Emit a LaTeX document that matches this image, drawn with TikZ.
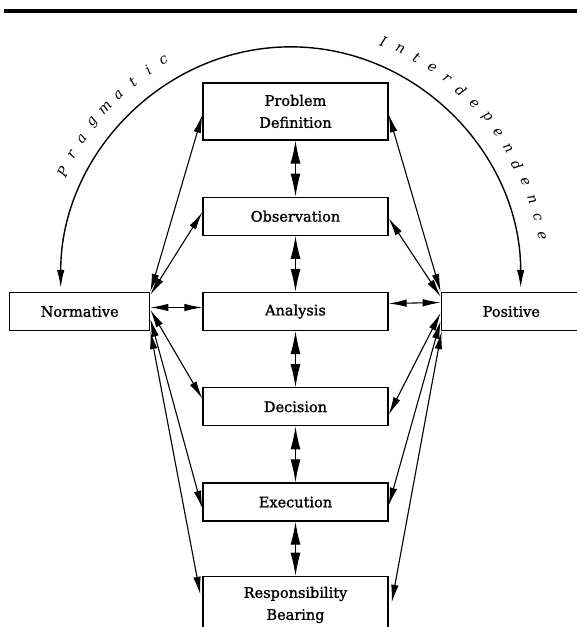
\documentclass[tikz,border=0pt]{standalone}
\usepackage{fontspec}
\setmainfont{DejaVu Serif}[AutoFakeBold=1.3]
\newfontfamily\arcfont{DejaVu Serif Italic}
\usetikzlibrary{positioning,arrows.meta}

\begin{document}
\begin{tikzpicture}[
  x=1pt,y=1pt,
  >={Latex[length=18pt,width=7.5pt]},
  stage/.style={draw,line width=1.3pt,minimum width=185pt,minimum height=38pt,
    inner sep=2pt,align=center,font=\fontsize{14.5}{22}\selectfont\bfseries},
  pole/.style={stage,minimum width=140pt},
  link/.style={<->,line width=1.1pt},
  chain/.style={{Latex[length=23pt,width=10pt]}-{Latex[length=23pt,width=10pt]},line width=1.1pt},
  arcletter/.style={inner sep=0pt,font=\fontsize{14}{14}\arcfont},
  node distance=56pt,
]
  \clip (0,0) rectangle (577,627);
  \draw[line width=4.5pt] (4,616) -- (577,616);

  \node[stage] (ana) at (295.5,315.5) {Analysis};
  \node[stage,above=of ana] (obs) {Observation};
  \node[stage,minimum height=57pt,above=of obs] (pd) {Problem\\Definition};
  \node[stage,below=of ana] (dec) {Decision};
  \node[stage,below=of dec] (exe) {Execution};
  \node[stage,minimum height=57pt,below=54pt of exe] (rb) {Responsibility\\Bearing};
  \node[pole,left=52pt of ana] (norm) {Normative};
  \node[pole,right=52pt of ana] (pos) {Positive};

  \foreach \a/\b in {pd/obs,obs/ana,ana/dec,dec/exe,exe/rb}
    \draw[chain] (\a.south) -- (\b.north);

  \draw[link] ([yshift=4pt]norm.east) -- ([yshift=4pt]ana.west);
  \draw[link] ([yshift=8pt]ana.east) -- ([yshift=9pt]pos.west);

  \draw[link] (norm.north east) -- ([yshift=-3.5pt]pd.west);
  \draw[link] ([yshift=-3pt]norm.north east) -- ([yshift=4pt]obs.west);
  \draw[link] ([yshift=-18pt]norm.north east) -- ([yshift=8pt]dec.west);
  \draw[link] ([yshift=-27pt]norm.north east) -- ([yshift=-6.5pt]exe.west);
  \draw[link] (norm.south east) -- ([xshift=-2pt,yshift=-19pt]rb.north west);

  \draw[link] ([yshift=-3pt]pd.east) -- (pos.north west);
  \draw[link] ([yshift=-2pt]obs.east) -- ([yshift=-5pt]pos.north west);
  \draw[link] ([yshift=-8pt]dec.east) -- ([yshift=-21pt]pos.north west);
  \draw[link] ([yshift=-3.5pt]exe.east) -- ([yshift=-29pt]pos.north west);
  \draw[link] ([xshift=3pt,yshift=-27pt]rb.north east) -- ([xshift=1pt]pos.south west);

  \coordinate (arcstart) at ([xshift=-19pt,yshift=4pt]norm.north);
  \draw[link,line width=1.4pt] (arcstart) arc[start angle=180,end angle=0,x radius=230,y radius=241];

  \foreach \c [count=\k from 0] in {P,r,a,g,m,a,t,i,c}
    \node[arcletter,rotate={63.8-4.2*\k}] (lp\k)
      at ({292+255*cos(153.8-4.2*\k)},{338+265*sin(153.8-4.2*\k)}) {\c};
  \foreach \c [count=\k from 0] in {I,n,t,e,r,d,e,p,e,n,d,e,n,c,e}
    \node[arcletter,rotate={-21-4.1*\k}] (ri\k)
      at ({292+255*cos(69-4.1*\k)},{338+265*sin(69-4.1*\k)}) {\c};
\end{tikzpicture}
\end{document}
